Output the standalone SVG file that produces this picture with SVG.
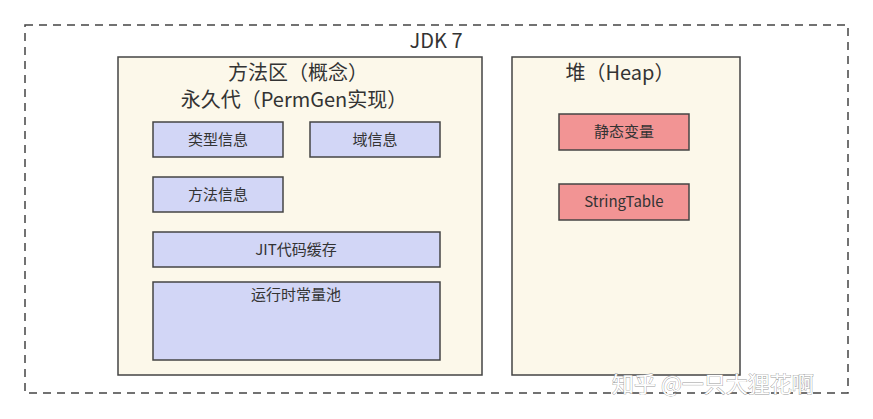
<svg xmlns="http://www.w3.org/2000/svg" width="873" height="419" viewBox="0 0 873 419">
<style>
text{font-family:"Noto Sans CJK SC","Noto Sans",sans-serif;fill:#333;text-anchor:middle}
.area{fill:#fcf8ea;stroke:#444;stroke-width:1.5}
.blue{fill:#d2d6f6;stroke:#444;stroke-width:1.5}
.red{fill:#f29494;stroke:#444;stroke-width:1.5}
.t{font-size:15px}
.h{font-size:20px}
.wm{font-size:22px;fill:#fff;stroke:#999;stroke-width:0.8;paint-order:stroke;text-anchor:start}
</style>
<rect width="873" height="419" fill="#fff"/>
<g id="jdk7">
<rect x="25" y="25" width="823" height="368" fill="none" stroke="#444" stroke-width="1.5" stroke-dasharray="8,6"/>
<text x="436" y="48" class="h">JDK 7</text>
</g>
<g id="method-area">
<rect class="area" x="118" y="57" width="364" height="318"/>
<text x="298" y="80" class="h">方法区（概念）</text>
<text x="294" y="107" class="h">永久代（PermGen实现）</text>
</g>
<g id="heap">
<rect class="area" x="512" y="57" width="228" height="318"/>
<text x="620" y="80" class="h">堆（Heap）</text>
</g>
<g id="type-info"><rect class="blue" x="153" y="122" width="130" height="35"/><text class="t" x="218" y="145">类型信息</text></g>
<g id="field-info"><rect class="blue" x="310" y="122" width="130" height="35"/><text class="t" x="375" y="145">域信息</text></g>
<g id="method-info"><rect class="blue" x="153" y="177" width="130" height="35"/><text class="t" x="218" y="200">方法信息</text></g>
<g id="jit"><rect class="blue" x="153" y="232" width="287" height="35"/><text class="t" x="296" y="255">JIT代码缓存</text></g>
<g id="runtime-pool"><rect class="blue" x="153" y="282" width="287" height="78"/><text class="t" x="296" y="300">运行时常量池</text></g>
<g id="static-vars"><rect class="red" x="559" y="114" width="130" height="36"/><text class="t" x="624" y="137">静态变量</text></g>
<g id="string-table"><rect class="red" x="559" y="184" width="130" height="36"/><text class="t" x="624" y="207">StringTable</text></g>
<g id="connectors"></g>
<text class="wm" x="612" y="392">知乎 @一只大狸花啊</text>
</svg>
